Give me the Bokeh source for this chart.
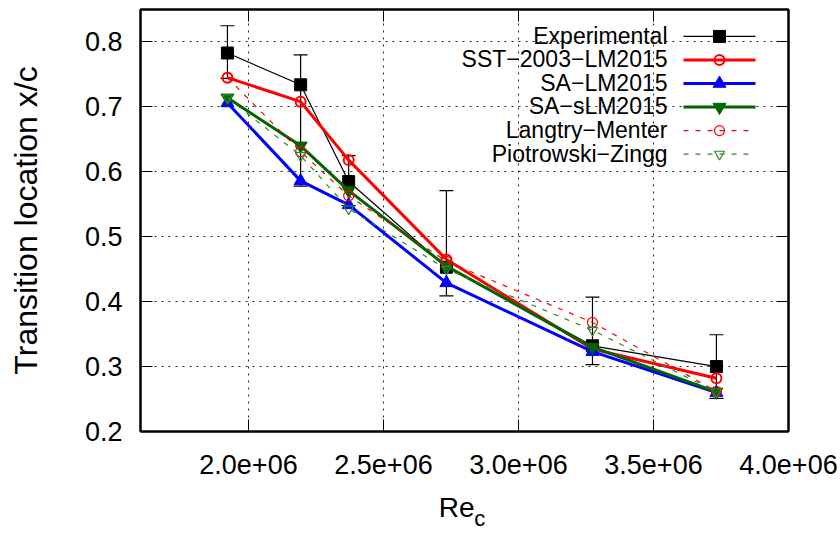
from bokeh.plotting import figure
from bokeh.models import Range1d, FixedTicker, LinearAxis, Label
from bokeh.embed import file_html
from bokeh.resources import INLINE

# ---------------- data ----------------
re_c = [1.922e6, 2.193e6, 2.371e6, 2.733e6, 3.274e6, 3.733e6]
experimental = [0.783, 0.734, 0.585, 0.453, 0.332, 0.300]
exp_upper = [0.825, 0.780, 0.625, 0.571, 0.407, 0.349]
exp_lower = [0.744, 0.578, 0.548, 0.409, 0.303, 0.251]
sst_lm2015 = [0.745, 0.708, 0.618, 0.465, 0.327, 0.282]
sa_lm2015 = [0.706, 0.586, 0.549, 0.429, 0.323, 0.260]
sa_slm2015 = [0.714, 0.640, 0.571, 0.455, 0.330, 0.261]
langtry_menter = [0.745, 0.631, 0.563, 0.462, 0.368, 0.262]
piotrowski_zingg = [0.714, 0.625, 0.543, 0.450, 0.356, 0.261]

x_ticks = [2.0e6, 2.5e6, 3.0e6, 3.5e6, 4.0e6]
x_tick_labels = ["2.0e+06", "2.5e+06", "3.0e+06", "3.5e+06", "4.0e+06"]
y_ticks = [0.2, 0.3, 0.4, 0.5, 0.6, 0.7, 0.8]
y_tick_labels = ["0.2", "0.3", "0.4", "0.5", "0.6", "0.7", "0.8"]

legend_names = ["Experimental", "SST\u22122003\u2212LM2015", "SA\u2212LM2015",
                "SA\u2212sLM2015", "Langtry\u2212Menter", "Piotrowski\u2212Zingg"]

# ---------------- layout ----------------
W, H = 840, 533
FL, FR, FT, FB = 140, 788, 9, 432
X0, X1 = 1.6e6, 4.0e6
Y0, Y1 = 0.2, 0.85
FONT = "Liberation Sans"
NB = "\u00a0"


def px_x(px):
    return X0 + (px - FL) / (FR - FL) * (X1 - X0)


def px_y(py):
    return Y1 - (py - FT) / (FB - FT) * (Y1 - Y0)


p = figure(width=W, height=H, output_backend="svg", toolbar_location=None,
           x_range=Range1d(X0, X1), y_range=Range1d(Y0, Y1),
           min_border_left=FL, min_border_right=W - FR,
           min_border_top=FT, min_border_bottom=H - FB)
p.background_fill_color = "white"
p.border_fill_color = "white"
p.outline_line_color = "black"
p.outline_line_width = 2


def style_axis(ax, ticks, labels, show_labels=True, size="27px"):
    ax.ticker = FixedTicker(ticks=ticks)
    ax.major_label_overrides = {t: l for t, l in zip(ticks, labels)}
    ax.major_tick_in = 12
    ax.major_tick_out = 0
    ax.minor_tick_in = 0
    ax.minor_tick_out = 0
    ax.major_tick_line_color = "black"
    ax.major_tick_line_width = 1
    ax.axis_line_color = "black"
    ax.axis_line_width = 2
    ax.major_label_text_font = FONT
    ax.major_label_text_color = "black"
    ax.axis_label_text_font = FONT
    ax.axis_label_text_font_style = "normal"
    ax.axis_label_text_color = "black"
    if show_labels:
        ax.major_label_text_font_size = size
    else:
        ax.major_label_text_font_size = "0px"
        ax.major_label_standoff = 0


xa = p.xaxis[0]
style_axis(xa, x_ticks, x_tick_labels)
xa.major_label_standoff = 23
xa.axis_label = "Re" + NB * 2
xa.axis_label_text_font_size = "28px"
xa.axis_label_standoff = 15

ya = p.yaxis[0]
style_axis(ya, y_ticks, y_tick_labels)
ya.major_label_standoff = 18
ya.axis_label = "Transition location x/c"
ya.axis_label_text_font_size = "32px"
ya.axis_label_standoff = 38

# subscript "c" of Re_c, carried by a tick-less axis under the first one
sub_ax = LinearAxis()
style_axis(sub_ax, x_ticks, ["" for _ in x_ticks], show_labels=False)
sub_ax.major_tick_in = 0
sub_ax.axis_line_color = None
sub_ax.axis_label = NB * 5 + "c"
sub_ax.axis_label_text_font_size = "22px"
sub_ax.axis_label_standoff = -20
p.add_layout(sub_ax, "below")

top_ax = LinearAxis()
style_axis(top_ax, x_ticks, ["" for _ in x_ticks], show_labels=False)
p.add_layout(top_ax, "above")
right_ax = LinearAxis()
style_axis(right_ax, y_ticks, ["" for _ in y_ticks], show_labels=False)
p.add_layout(right_ax, "right")

for g, ticks in ((p.xgrid[0], x_ticks), (p.ygrid[0], y_ticks)):
    g.ticker = FixedTicker(ticks=ticks)
    g.grid_line_color = "black"
    g.grid_line_width = 1
    g.grid_line_dash = "2 5"
    g.grid_line_alpha = 0.85

# ---------------- series ----------------
# Experimental with error bars
p.segment(x0=re_c, y0=exp_lower, x1=re_c, y1=exp_upper, line_color="black", line_width=1.2)
p.scatter(re_c, exp_upper, marker="dash", size=14, line_color="black", line_width=1.2)
p.scatter(re_c, exp_lower, marker="dash", size=14, line_color="black", line_width=1.2)
p.line(re_c, experimental, line_color="black", line_width=1.2)
p.scatter(re_c, experimental, marker="square", size=12, fill_color="black", line_color="black")

# SST-2003-LM2015
p.line(re_c, sst_lm2015, line_color="#ff0000", line_width=3)
p.scatter(re_c, sst_lm2015, marker="circle", size=10, line_color="#ff0000", line_width=2, fill_alpha=0)

# SA-LM2015
p.line(re_c, sa_lm2015, line_color="#0000ff", line_width=3)
p.scatter(re_c, sa_lm2015, marker="triangle", size=13, line_color="#0000ff", fill_color="#0000ff")

# SA-sLM2015
p.line(re_c, sa_slm2015, line_color="#006400", line_width=3)
p.scatter(re_c, sa_slm2015, marker="inverted_triangle", size=13, line_color="#006400", fill_color="#006400")

# Langtry-Menter
p.line(re_c, langtry_menter, line_color="#ff0000", line_width=1.2, line_dash="5 7")
p.scatter(re_c, langtry_menter, marker="circle", size=10, line_color="#ff0000", line_width=1.2, fill_alpha=0)

# Piotrowski-Zingg
p.line(re_c, piotrowski_zingg, line_color="#2a8a2a", line_width=1.2, line_dash="5 7")
p.scatter(re_c, piotrowski_zingg, marker="inverted_triangle", size=10, line_color="#2a8a2a",
          line_width=1.2, fill_alpha=0)

# ---------------- legend (manual, gnuplot style) ----------------
styles = [
    dict(color="black", lw=1.2, dash="solid", marker="square", size=12, fill=True, mlw=1),
    dict(color="#ff0000", lw=3, dash="solid", marker="circle", size=10, fill=False, mlw=2),
    dict(color="#0000ff", lw=3, dash="solid", marker="triangle", size=13, fill=True, mlw=1),
    dict(color="#006400", lw=3, dash="solid", marker="inverted_triangle", size=13, fill=True, mlw=1),
    dict(color="#ff0000", lw=1.2, dash="5 7", marker="circle", size=10, fill=False, mlw=1.2),
    dict(color="#2a8a2a", lw=1.2, dash="5 7", marker="inverted_triangle", size=10, fill=False, mlw=1.2),
]
row0, dy = 36, 23.6
text_right, s0, s1, sm = 667, 683, 755, 719
for i, (name, st) in enumerate(zip(legend_names, styles)):
    ry = row0 + i * dy
    p.add_layout(Label(x=text_right - FL, y=FB - ry, x_units="screen", y_units="screen",
                       text=name, text_align="right", text_baseline="middle",
                       text_font=FONT, text_font_size="23px", text_color="black"))
    yy = px_y(ry)
    p.line([px_x(s0), px_x(s1)], [yy, yy], line_color=st["color"], line_width=st["lw"],
           line_dash=st["dash"])
    p.scatter([px_x(sm)], [yy], marker=st["marker"], size=st["size"], line_color=st["color"],
              line_width=st["mlw"], fill_color=st["color"] if st["fill"] else None,
              fill_alpha=1 if st["fill"] else 0)

open("out.html", "w").write(file_html(p, INLINE))
